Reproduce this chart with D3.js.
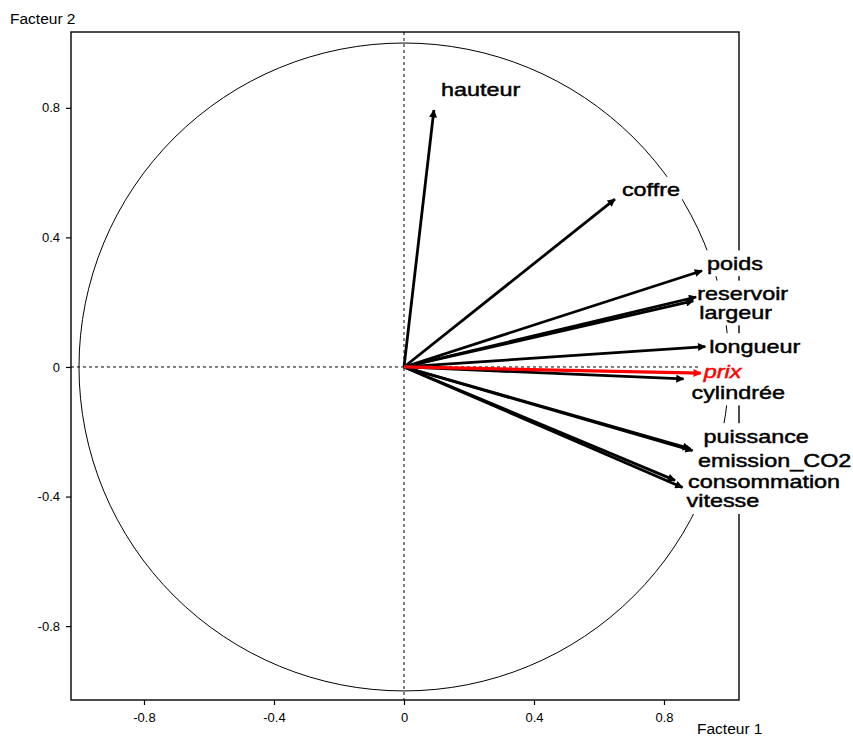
<!DOCTYPE html>
<html>
<head>
<meta charset="utf-8">
<script src="https://cdn.jsdelivr.net/npm/d3@7"></script>
<style>
  html, body { margin: 0; padding: 0; background: #fff; }
  svg { display: block; font-family: "Liberation Sans", Arial, sans-serif; }
</style>
</head>
<body>
<svg id="chart" width="853" height="738"></svg>
<script>
// ---- data ----
const variables = ["hauteur","coffre","poids","reservoir","largeur","longueur","prix","cylindrée","puissance","emission_CO2","consommation","vitesse"];
const factor1   = [0.092, 0.649, 0.917, 0.899, 0.890, 0.927, 0.913, 0.860, 0.888, 0.880, 0.834, 0.857];
const factor2   = [0.793, 0.518, 0.297, 0.216, 0.204, 0.063, -0.019, -0.037, -0.258, -0.252, -0.350, -0.372];
const supplementary = ["prix"];
const tickValues = [-0.8, -0.4, 0, 0.4, 0.8];
const xTitle = "Facteur 1";
const yTitle = "Facteur 2";
// label nudges in pixels from each arrow tip (layout only)
const labelNudgeX = [7, 7, 5, 1, 6, 4, 3, 8, 11, 8, 13, 4];
const labelNudgeY = [-14, -3, -1, 3, 18, 6, 5, 20, -8, 18, 8, 20];

(function () {
const svg = d3.select("#chart");
const pLeft = 71, pRight = 739, pTop = 32, pBottom = 700;

const x = d3.scaleLinear().domain([-1.0246, 1.0308]).range([pLeft, pRight]);
const y = d3.scaleLinear().domain([-1.028, 1.034]).range([pBottom, pTop]);

const data = variables.map((v, i) => ({ name: v, f1: factor1[i], f2: factor2[i],
  sup: supplementary.includes(v), nx: labelNudgeX[i], ny: labelNudgeY[i] }));

// defs: arrowheads
const defs = svg.append("defs");
[["arrow-black", "#000"], ["arrow-red", "#ff0000"]].forEach(([id, c]) => {
  defs.append("marker")
    .attr("id", id)
    .attr("viewBox", "0 0 10 10")
    .attr("refX", 9).attr("refY", 5)
    .attr("markerUnits", "userSpaceOnUse")
    .attr("markerWidth", 11).attr("markerHeight", 8)
    .attr("orient", "auto")
    .append("path").attr("d", "M0,0 L10,5 L0,10 Z").attr("fill", c);
});

// frame
svg.append("rect")
  .attr("x", pLeft).attr("y", pTop)
  .attr("width", pRight - pLeft).attr("height", pBottom - pTop)
  .attr("fill", "none").attr("stroke", "#000").attr("stroke-width", 1.4);

// unit circle
svg.append("ellipse")
  .attr("cx", x(0)).attr("cy", y(0))
  .attr("rx", x(1) - x(0)).attr("ry", y(0) - y(1))
  .attr("fill", "none").attr("stroke", "#000").attr("stroke-width", 1);

// dashed zero lines
svg.append("line")
  .attr("x1", x(0)).attr("x2", x(0)).attr("y1", pTop).attr("y2", pBottom)
  .attr("stroke", "#000").attr("stroke-dasharray", "3,3").attr("stroke-width", 1);
svg.append("line")
  .attr("x1", pLeft).attr("x2", pRight).attr("y1", y(0)).attr("y2", y(0))
  .attr("stroke", "#000").attr("stroke-dasharray", "3,3").attr("stroke-width", 1);

// axes
const fmt = d => (d === 0 ? "0" : String(d));
const xAxis = svg.append("g")
  .attr("transform", `translate(0,${pBottom})`)
  .call(d3.axisBottom(x).tickValues(tickValues).tickFormat(fmt).tickSize(5).tickPadding(8));
const yAxis = svg.append("g")
  .attr("transform", `translate(${pLeft},0)`)
  .call(d3.axisLeft(y).tickValues(tickValues).tickFormat(fmt).tickSize(5).tickPadding(6));
[xAxis, yAxis].forEach(g => {
  g.select(".domain").remove();
  g.selectAll("text").attr("font-size", 13).attr("font-family", "Liberation Sans, Arial, sans-serif").attr("fill", "#000");
  g.selectAll("line").attr("stroke", "#000").attr("stroke-width", 1.2);
});

// axis titles
svg.append("text").attr("x", 697).attr("y", 734)
  .attr("font-size", 15.5).attr("fill", "#000").text(xTitle);
svg.append("text").attr("x", 10).attr("y", 24)
  .attr("font-size", 15.5).attr("fill", "#000").text(yTitle);

// layers: label boxes under arrows, above circle/frame
const labelLayer = svg.append("g");
const arrowLayer = svg.append("g");
const textLayer = svg.append("g");

const sx = 1.3;
const labels = textLayer.selectAll("g.lab").data(data).join("g")
  .attr("class", "lab")
  .attr("transform", d => `translate(${x(d.f1) + d.nx},${y(d.f2) + d.ny}) scale(${sx},1)`);
labels.append("text")
  .attr("font-size", 18)
  .attr("font-style", d => d.sup ? "italic" : "normal")
  .attr("fill", d => d.sup ? "#ff0000" : "#000")
  .attr("stroke", d => d.sup ? "#ff0000" : "#000")
  .attr("stroke-width", 0.45)
  .text(d => d.name);

labels.each(function (d) {
  const bb = this.querySelector("text").getBBox();
  labelLayer.append("rect")
    .attr("x", x(d.f1) + d.nx + bb.x * sx - 2)
    .attr("y", y(d.f2) + d.ny + bb.y - 3)
    .attr("width", bb.width * sx + 4)
    .attr("height", bb.height + 6)
    .attr("fill", "#fff");
});

// arrows
arrowLayer.selectAll("line").data(data).join("line")
  .attr("x1", x(0)).attr("y1", y(0))
  .attr("x2", d => x(d.f1)).attr("y2", d => y(d.f2))
  .attr("stroke", d => d.sup ? "#ff0000" : "#000")
  .attr("stroke-width", d => d.sup ? 3.2 : 2.8)
  .attr("marker-end", d => d.sup ? "url(#arrow-red)" : "url(#arrow-black)");
arrowLayer.selectAll("line").filter(d => d.sup).raise();
})();
</script>
</body>
</html>
